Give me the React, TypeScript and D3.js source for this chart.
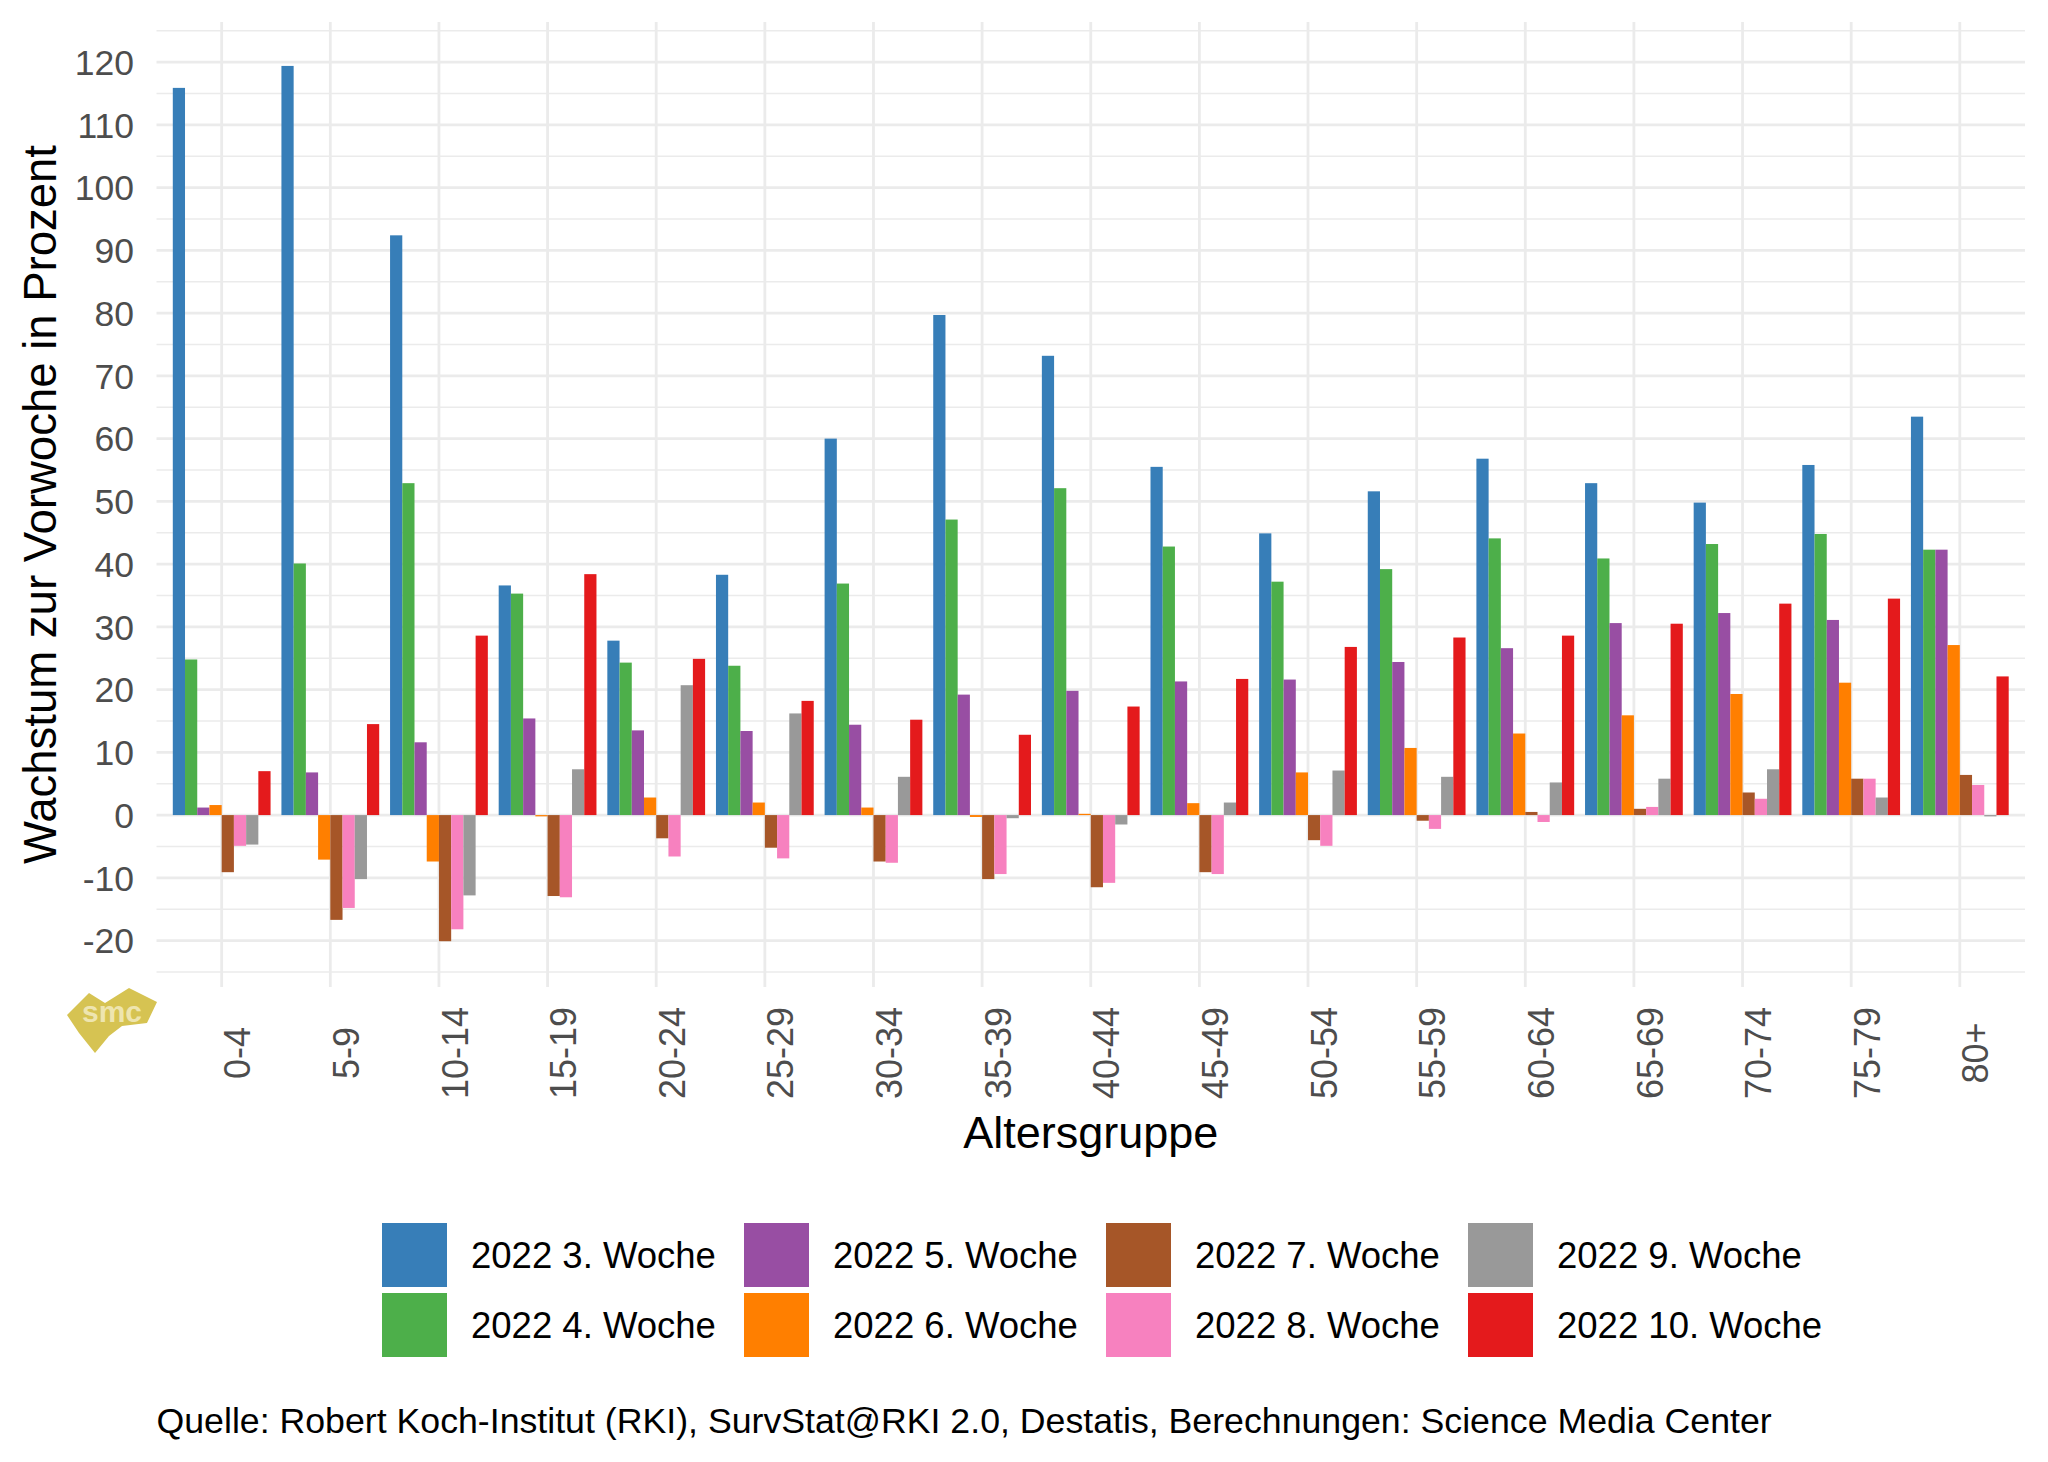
import React, { useEffect, useRef } from "react";
import { select, scaleLinear, scalePoint, scaleBand, range } from "d3";

const ageGroups = ["0-4", "5-9", "10-14", "15-19", "20-24", "25-29", "30-34", "35-39", "40-44", "45-49", "50-54", "55-59", "60-64", "65-69", "70-74", "75-79", "80+"];

const week3 = [115.9, 119.4, 92.4, 36.6, 27.8, 38.3, 60.0, 79.7, 73.2, 55.5, 44.9, 51.6, 56.8, 52.9, 49.8, 55.8, 63.5];
const week4 = [24.8, 40.1, 52.9, 35.3, 24.3, 23.8, 36.9, 47.1, 52.1, 42.8, 37.2, 39.2, 44.1, 40.9, 43.2, 44.8, 42.3];
const week5 = [1.2, 6.8, 11.6, 15.4, 13.5, 13.4, 14.4, 19.2, 19.8, 21.3, 21.6, 24.4, 26.6, 30.6, 32.2, 31.1, 42.3];
const week6 = [1.6, -7.1, -7.4, -0.2, 2.8, 2.0, 1.2, -0.3, 0.2, 1.9, 6.8, 10.7, 13.0, 15.9, 19.3, 21.1, 27.1];
const week7 = [-9.1, -16.7, -20.1, -12.9, -3.7, -5.2, -7.4, -10.2, -11.5, -9.1, -4.0, -0.9, 0.5, 1.0, 3.6, 5.8, 6.4];
const week8 = [-4.9, -14.8, -18.2, -13.1, -6.6, -6.9, -7.6, -9.4, -10.8, -9.4, -4.9, -2.2, -1.1, 1.3, 2.6, 5.8, 4.8];
const week9 = [-4.7, -10.2, -12.8, 7.3, 20.7, 16.2, 6.1, -0.5, -1.5, 2.0, 7.1, 6.1, 5.2, 5.8, 7.3, 2.8, -0.2];
const week10 = [7.0, 14.5, 28.6, 38.4, 24.9, 18.2, 15.2, 12.8, 17.3, 21.7, 26.8, 28.3, 28.6, 30.5, 33.7, 34.5, 22.1];

const seriesNames = ["2022 3. Woche", "2022 4. Woche", "2022 5. Woche", "2022 6. Woche", "2022 7. Woche", "2022 8. Woche", "2022 9. Woche", "2022 10. Woche"];
const seriesValues = [week3, week4, week5, week6, week7, week8, week9, week10];
const seriesColors = ["#377EB8", "#4DAF4A", "#984EA3", "#FF7F00", "#A65628", "#F781BF", "#999999", "#E41A1C"];

const yTicks = range(-20, 121, 10);
const yMinor = range(-25, 126, 10);

const W = 2048;
const H = 1462;
const FONT = "'Liberation Sans', Arial, sans-serif";

export default function App() {
    const svgRef: any = useRef();

    useEffect(() => {
        const svg = select(svgRef.current);
        svg.selectAll("*").remove();

        const left = 156.5, right = 2025, top = 22, bottom = 987;

        const x = scalePoint().domain(ageGroups).range([left, right]).padding(0.6);
        const step = x.step();
        const x1 = scaleBand()
            .domain(seriesNames)
            .range([-0.45 * step, 0.45 * step])
            .padding(0);
        const y = scaleLinear().domain([-27.4, 126.4]).range([bottom, top]);

        const grid = svg.append("g");
        grid.selectAll(".minor")
            .data(yMinor)
            .join("line")
            .attr("x1", left).attr("x2", right)
            .attr("y1", (d) => y(d)).attr("y2", (d) => y(d))
            .attr("stroke", "#EBEBEB").attr("stroke-width", 1.4);
        grid.selectAll(".major")
            .data(yTicks)
            .join("line")
            .attr("x1", left).attr("x2", right)
            .attr("y1", (d) => y(d)).attr("y2", (d) => y(d))
            .attr("stroke", "#EBEBEB").attr("stroke-width", 2.8);
        grid.selectAll(".vmajor")
            .data(ageGroups)
            .join("line")
            .attr("x1", (d) => x(d)!).attr("x2", (d) => x(d)!)
            .attr("y1", top).attr("y2", bottom)
            .attr("stroke", "#EBEBEB").attr("stroke-width", 2.8);

        // bars
        svg.append("g")
            .selectAll("g")
            .data(seriesNames)
            .join("g")
            .attr("fill", (_, i) => seriesColors[i])
            .selectAll("rect")
            .data((name, i) => seriesValues[i].map((v, j) => ({ name, v, group: ageGroups[j] })))
            .join("rect")
            .attr("x", (d) => x(d.group)! + x1(d.name)!)
            .attr("width", x1.bandwidth())
            .attr("y", (d) => y(Math.max(0, d.v)))
            .attr("height", (d) => Math.abs(y(d.v) - y(0)));

        // y axis labels
        svg.append("g")
            .selectAll("text")
            .data(yTicks)
            .join("text")
            .attr("x", 134)
            .attr("y", (d) => y(d))
            .attr("dy", "0.36em")
            .attr("text-anchor", "end")
            .attr("font-family", FONT)
            .attr("font-size", 35.5)
            .attr("fill", "#4D4D4D")
            .text((d) => d);

        // x axis labels
        svg.append("g")
            .selectAll("text")
            .data(ageGroups)
            .join("text")
            .attr("transform", (d) => `translate(${x(d)! + 2}, 1053) rotate(-90)`)
            .attr("dy", "0.74em")
            .attr("text-anchor", "middle")
            .attr("font-family", FONT)
            .attr("font-size", 36)
            .attr("fill", "#4D4D4D")
            .text((d) => d);

        // titles
        svg.append("text")
            .attr("transform", `translate(56, ${(top + bottom) / 2}) rotate(-90)`)
            .attr("text-anchor", "middle")
            .attr("font-family", FONT)
            .attr("font-size", 45.5)
            .attr("fill", "#000")
            .text("Wachstum zur Vorwoche in Prozent");
        svg.append("text")
            .attr("x", (left + right) / 2)
            .attr("y", 1148)
            .attr("text-anchor", "middle")
            .attr("font-family", FONT)
            .attr("font-size", 45)
            .attr("fill", "#000")
            .text("Altersgruppe");

        // legend, filled column by column
        const legend = svg.append("g");
        seriesNames.forEach((name, i) => {
            const col = Math.floor(i / 2);
            const row = i % 2;
            const lx = 382 + col * 362;
            const ly = 1223 + row * 70;
            legend.append("rect")
                .attr("x", lx).attr("y", ly)
                .attr("width", 65).attr("height", 64)
                .attr("fill", seriesColors[i]);
            legend.append("text")
                .attr("x", lx + 89)
                .attr("y", ly + 32)
                .attr("dy", "0.36em")
                .attr("font-family", FONT)
                .attr("font-size", 36.5)
                .attr("fill", "#000")
                .text(name);
        });

        // caption
        svg.append("text")
            .attr("x", left)
            .attr("y", 1433)
            .attr("font-family", FONT)
            .attr("font-size", 35.7)
            .attr("fill", "#000")
            .text("Quelle: Robert Koch-Institut (RKI), SurvStat@RKI 2.0, Destatis, Berechnungen: Science Media Center");

        // smc logo
        const logo = svg.append("g").attr("transform", "translate(67, 988)");
        logo.append("path")
            .attr("d", "M0,27 L22,5 L38,15 L62,0 L90,14 L80,35 L55,38 L42,48 L28,65 L12,45 Z")
            .attr("fill", "#D6C352");
        logo.append("text")
            .attr("x", 45).attr("y", 34)
            .attr("text-anchor", "middle")
            .attr("font-family", FONT)
            .attr("font-weight", "bold")
            .attr("font-size", 30)
            .attr("fill", "#F3EBC0")
            .attr("opacity", 0.85)
            .text("smc");
    }, []);

    return (
        <div style={{ position: "absolute", left: 0, top: 0, width: W, height: H, background: "#fff" }}>
            <svg ref={svgRef} width={W} height={H} style={{ display: "block" }} />
        </div>
    );
}
